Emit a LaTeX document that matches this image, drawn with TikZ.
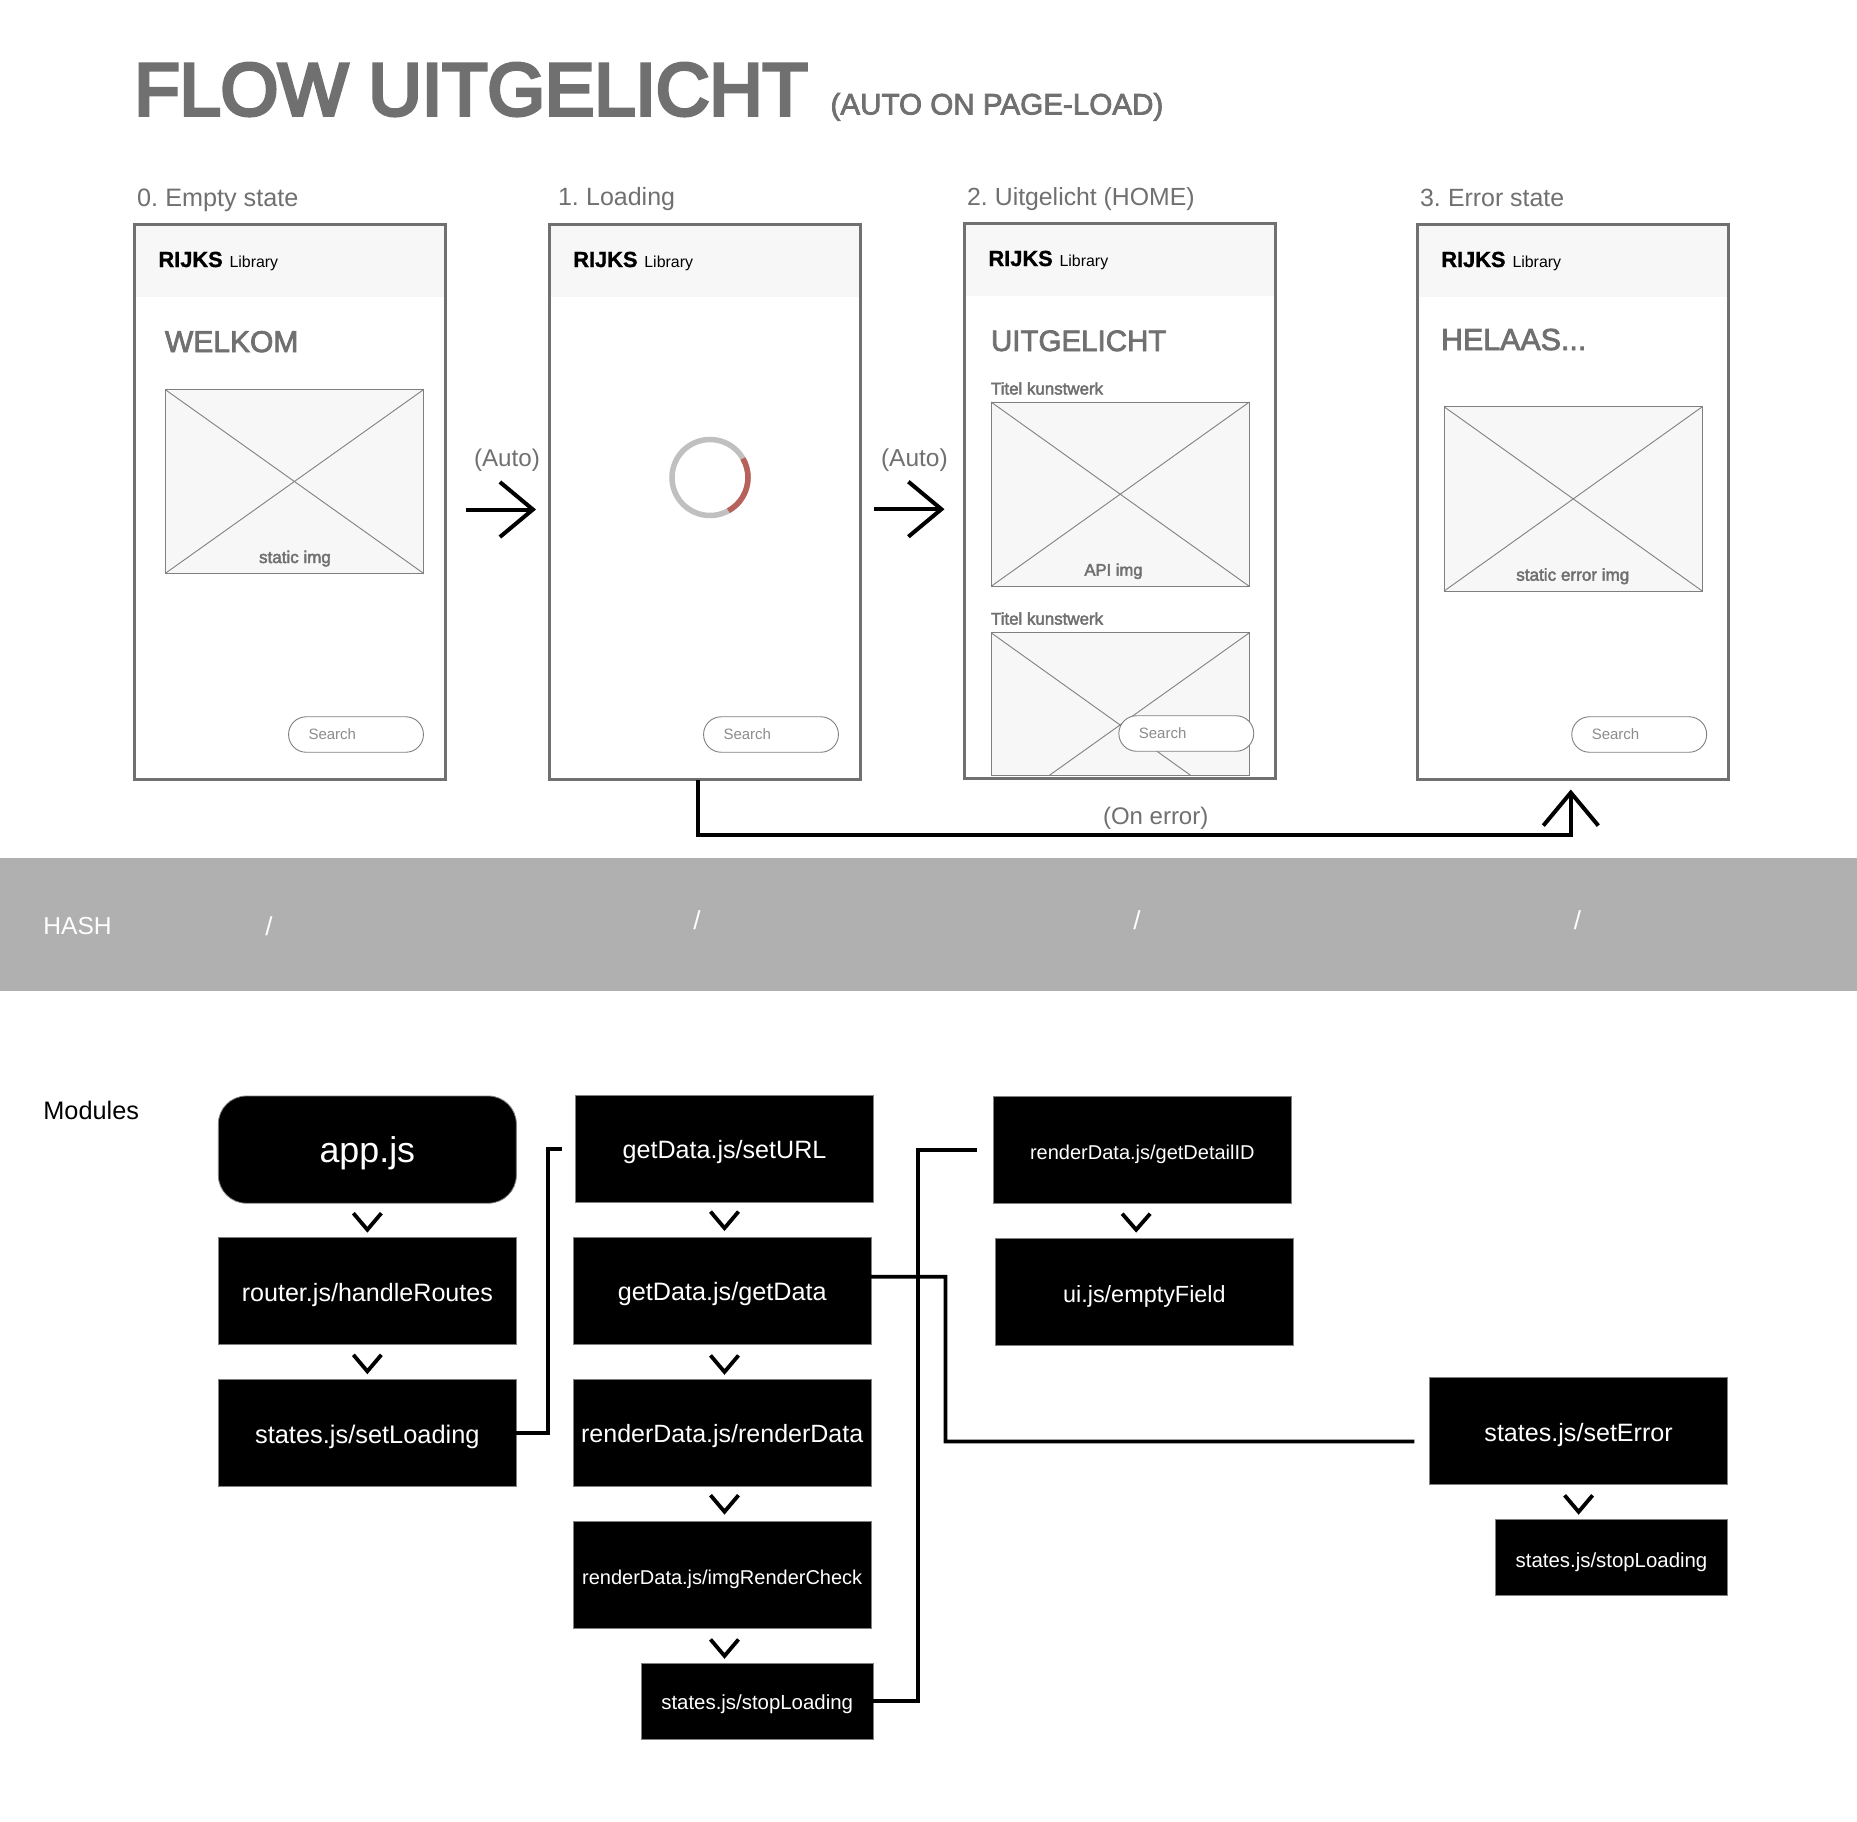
\documentclass[tikz,border=0pt]{standalone}
\usepackage{fontspec}
\usetikzlibrary{arrows.meta,calc}
\setmainfont{Liberation Sans}
\newfontfamily\medfont[FakeBold=2.6]{Liberation Sans}
\newfontfamily\titlefont[FakeBold=5]{Liberation Sans}
\newfontfamily\rijksfont[BoldFeatures={FakeBold=1.2}]{Liberation Sans}
\definecolor{tgray}{HTML}{707070}
\definecolor{sgray}{HTML}{8C8C8C}
\definecolor{edge}{HTML}{808080}
\definecolor{soft}{HTML}{F7F7F7}
\definecolor{band}{HTML}{B0B0B0}
\definecolor{ring}{HTML}{C0C0C0}
\definecolor{ringred}{HTML}{B8605A}
\tikzset{
  x=1pt,y=-1pt,
  txt/.style={anchor=base west,inner sep=0pt,outer sep=0pt,text=tgray,font=\fontsize{#1}{#1}\selectfont},
  txtb/.style={anchor=base west,inner sep=0pt,outer sep=0pt,text=black,font=\rijksfont\bfseries\fontsize{#1}{#1}\selectfont},
  txtm/.style={anchor=base west,inner sep=0pt,outer sep=0pt,text=tgray,font=\medfont\fontsize{#1}{#1}\selectfont},
  txtmc/.style={anchor=base,inner sep=0pt,outer sep=0pt,text=tgray,font=\medfont\fontsize{#1}{#1}\selectfont},
  slash/.style={anchor=base,inner sep=0pt,outer sep=0pt,text=white,font=\fontsize{26}{26}\selectfont},
  panel/.style={draw=tgray,line width=3pt,minimum width=310.7pt,minimum height=555pt,inner sep=0pt,outer sep=0pt},
  imgbox/.style={draw=edge,line width=1pt,fill=soft,minimum width=258.2pt,inner sep=0pt,outer sep=0pt},
  crossline/.style={draw=edge,line width=0.9pt},
  pill/.style={draw=edge,line width=0.9pt,fill=white,rounded corners=17.7pt,minimum height=35.5pt,
    text width=94.9pt,inner xsep=20pt,inner ysep=0pt,outer sep=0pt,align=left,text=sgray,text height=9pt,text depth=0pt,
    font=\fontsize{15}{15}\selectfont},
  flow/.style={draw=black,line width=4pt,-{Straight Barb[length=33pt,width=55pt,line width=4pt]}},
  conn/.style={draw=black,line width=3.8pt},
  chev/.style={draw=black,line width=3.8pt},
  modbox/.style={draw=edge,line width=0.8pt,fill=black,text=white,inner sep=0pt,outer sep=0pt,
    minimum width=298pt,minimum height=107.2pt,text height=20pt,text depth=0pt,font=\fontsize{#1}{#1}\selectfont},
  modbox/.default=25,
  modlow/.style={modbox=#1,minimum width=232.5pt,minimum height=76.2pt,text height=18pt},
}
\newcommand{\chevat}[4]{% node, xoffset, ytop-offset, ybottom-offset from node south
  \draw[chev] ([xshift=#2pt-14pt,yshift=-#3pt]#1.south) -- ([xshift=#2pt,yshift=-#4pt]#1.south) -- ([xshift=#2pt+14pt,yshift=-#3pt]#1.south);}
\begin{document}
\begin{tikzpicture}
\useasboundingbox (0,0) rectangle (1857,1822);
\fill[white] (0,0) rectangle (1857,1822);

% title
\node[txt=73.9,font=\titlefont\fontsize{73.9}{73.9}\selectfont] (title) at (134.5,115) {FLOW UITGELICHT};
\node[txtm=29.6] (subtitle) at (830.5,114.5) {(AUTO ON PAGE-LOAD)};

% state labels
\node[txt=25.2] (lab0) at (137,207) {0.\kern-2pt{} Empty state};
\node[txt=25] (lab1) at (558,206) {1.\kern-2pt{} Loading};
\node[txt=24.8] (lab2) at (967,205.7) {2.\kern-2pt{} Uitgelicht (HOME)};
\node[txt=24.9] (lab3) at (1420,206.7) {3.\kern-2pt{} Error state};

% panel headers
\fill[soft] (134.7,224.4) rectangle (445.4,297);
\fill[soft] (549.5,224.4) rectangle (860.7,297);
\fill[soft] (964.3,223) rectangle (1276,296);
\fill[soft] (1417,224) rectangle (1729,297);

% panels
\node[panel] (p0) at (290,502) {};
\node[panel,minimum width=311.2pt] (p1) at (705.1,502) {};
\node[panel,minimum width=311.2pt] (p2) at (1120.1,501) {};
\node[panel,minimum width=311.2pt] (p3) at (1573,502) {};

% brand
\node[txtb=21.8] (r0) at (158.5,267) {RIJKS};
\node[txt=15.9,text=black] (l0) at (229.6,267) {Library};
\node[txtb=21.8] (r1) at (573.3,267) {RIJKS};
\node[txt=15.9,text=black] (l1) at (644.4,267) {Library};
\node[txtb=21.8] (r2) at (988.5,266) {RIJKS};
\node[txt=15.9,text=black] (l2) at (1059.6,266) {Library};
\node[txtb=21.8] (r3) at (1441.3,267) {RIJKS};
\node[txt=15.9,text=black] (l3) at (1512.5,267) {Library};

% headings
\node[txtm=30] (h0) at (165,352) {WELKOM};
\node[txtm=29.5] (h2) at (991,351) {UITGELICHT};
\node[txtm=30.4] (h3) at (1441,350) {HELAAS...};

% image placeholders
\node[imgbox,minimum height=183.7pt] (i0) at (294.4,481.5) {};
\draw[crossline] (i0.north west) -- (i0.south east);
\draw[crossline] (i0.north east) -- (i0.south west);
\node[txtmc=17] (t0) at (295,563) {static img};

\node[txtm=16.9] (k1) at (991,394.5) {Titel kunstwerk};
\node[imgbox,minimum height=184.3pt] (i1) at (1120.2,494.2) {};
\draw[crossline] (i1.north west) -- (i1.south east);
\draw[crossline] (i1.north east) -- (i1.south west);
\node[txtmc=16.6] (t1) at (1113.5,575.6) {API img};

\node[txtm=16.9] (k2) at (991,624.6) {Titel kunstwerk};
\node[imgbox,minimum height=142.8pt] (i2) at (1120.2,704.2) {};
\coordinate (cutA) at (1191,775.6);
\coordinate (cutB) at (1049,775.6);
\draw[crossline] (i2.north west) -- (cutA);
\draw[crossline] (i2.north east) -- (cutB);

\node[imgbox,minimum height=184.3pt] (i3) at (1573.2,498.9) {};
\draw[crossline] (i3.north west) -- (i3.south east);
\draw[crossline] (i3.north east) -- (i3.south west);
\node[txtmc=17.1] (t3) at (1572.8,580.7) {static error img};

% spinner
\coordinate (spin) at (710,477.5);
\draw[ring,line width=5.5pt] (spin) circle[radius=38pt];
\draw[ringred,line width=5.5pt] ($(spin)+(30:38pt)$) arc[start angle=30,end angle=-61,radius=38pt];

% search pills
\node[pill] (s0) at (356,734.5) {Search};
\node[pill] (s1) at (771,734.5) {Search};
\node[pill] (s2) at (1186.3,733.5) {Search};
\node[pill] (s3) at (1639.2,734.5) {Search};

% flow
\draw[flow] ([xshift=20.3pt,yshift=-7.5pt]p0.east) -- ([xshift=-13.5pt,yshift=-7.5pt]p1.west);
\node[txt=24.2] (a1) at (474,466) {(Auto)};
\draw[flow] ([xshift=13.3pt,yshift=-7.2pt]p1.east) -- ([xshift=-20pt,yshift=-8.2pt]p2.west);
\node[txt=24.5] (a2) at (881,466) {(Auto)};
\coordinate (errtip) at (1570.8,789.5);
\coordinate (errlow) at (697.5,834.5);
\draw[flow] ([xshift=-7.6pt]p1.south) -- (errlow) -| (errtip);
\node[txt=24] (onerr) at (1103,824) {(On error)};

% hash band
\fill[band] (0,857.5) rectangle (1857,991);
\node[txt=24.6,text=white] (hash) at (43.4,934) {HASH};
\node[slash] (sl0) at (269,935) {/};
\node[slash] (sl1) at (697,929.5) {/};
\node[slash] (sl2) at (1137,929.5) {/};
\node[slash] (sl3) at (1577.5,929.5) {/};

% modules
\node[txt=25.3,text=black] (mods) at (43.4,1119.3) {Modules};

\node[modbox=35.8,rounded corners=28pt,text height=25.5pt] (app) at (367.35,1149.6) {app.js};
\node[modbox=25.1] (router) at (367.35,1291.2) {router.js/handleRoutes};
\node[modbox=25.4] (setLoading) at (367.35,1433.1) {states.js/setLoading};
\node[modbox=25.1,text height=19pt] (setURL) at (724.5,1149) {getData.js/setURL};
\node[modbox=25.2] (getData) at (722.2,1290.8) {getData.js/getData};
\node[modbox=25] (renderData) at (722.2,1432.6) {renderData.js/renderData};
\node[modbox=20] (imgCheck) at (722.2,1574.8) {renderData.js/imgRenderCheck};
\node[modlow=20.4,text height=16.5pt] (stopLoading) at (757.15,1701) {states.js/stopLoading};
\node[modbox=20] (detail) at (1142.35,1149.6) {renderData.js/getDetailID};
\node[modbox=23.4] (emptyField) at (1144.4,1292.2) {ui.js/emptyField};
\node[modbox=25.1] (setError) at (1578.6,1431.2) {states.js/setError};
\node[modlow=20.4,text height=20pt] (stopLoadingB) at (1611.5,1557.6) {states.js/stopLoading};

% chevrons
\chevat{app}{0}{10}{26.5}
\chevat{router}{0}{10}{26.5}
\chevat{setURL}{0}{9}{25.5}
\chevat{getData}{2.3}{11}{27.5}
\chevat{renderData}{2.3}{9}{25.5}
\chevat{imgCheck}{2.3}{11}{27.5}
\chevat{detail}{-6.2}{10.5}{26.5}
\chevat{setError}{0}{10.5}{27}

% connectors
\draw[conn] (setLoading.east) -| ([xshift=-27.5pt]setURL.west) -- ([xshift=-13.5pt]setURL.west);
\draw[conn] (stopLoading.east) -| ([xshift=-75pt]detail.west) -- ([xshift=-16.4pt]detail.west);
\coordinate (ge1) at (945.4,1276.7);
\coordinate (ge2) at (945.4,1441.4);
\draw[conn] ([yshift=14pt]getData.east) -- (ge1) -- (ge2) -- ([xshift=-15.3pt,yshift=-10.2pt]setError.west);
\end{tikzpicture}
\end{document}
